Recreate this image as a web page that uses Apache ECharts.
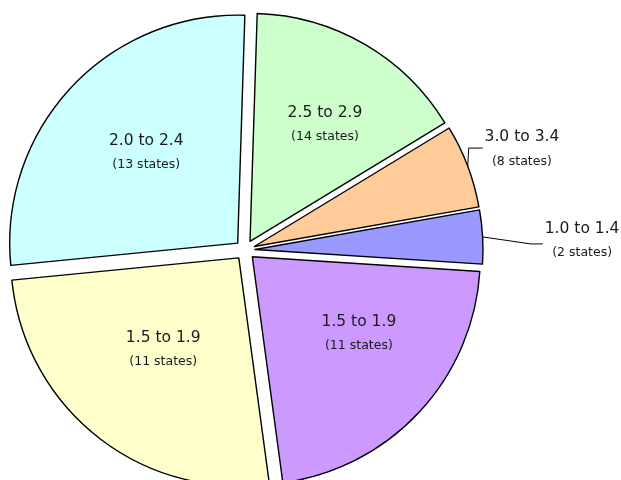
<!DOCTYPE html>
<html><head><meta charset="utf-8">
<script src="https://cdn.jsdelivr.net/npm/echarts@6/dist/echarts.min.js"></script>
<style>html,body{margin:0;padding:0;background:#fff}#c{width:621px;height:480px}</style>
</head><body><div id="c"></div>
<script>
// Data (clockwise from top)
const ranges = ['2.5 to 2.9', '3.0 to 3.4', '1.0 to 1.4', '1.5 to 1.9', '1.5 to 1.9', '2.0 to 2.4'];
const stateCounts = [14, 8, 2, 11, 11, 13];
const shares = [56.9, 21.3, 13.7, 78.6, 92.1, 97.4];

// Styling / layout
const colors = ['#CCFFCC', '#FFCC99', '#9999FF', '#CC99FF', '#FFFFCC', '#CCFFFF'];
const outside = [false, true, true, false, false, false];
const insideNudge = [[16, -16], [0, 0], [0, 0], [21, -3], [-3, 0], [-6, -11]];
// label placement for outside labels: [length, length2]
const outsideLen = [null, [49, -29], [-60, 122], null, null, null];
// leader line shape: [corner dx, corner dy, horizontal run]
const guide = [null, [1, -18, 14], [48, 7, 12], null, null, null];

const data = shares.map((v, i) => {
  const item = {
    value: v,
    name: ranges[i] + ' #' + i,
    selected: true,
    itemStyle: { color: colors[i] },
    label: { position: outside[i] ? 'outside' : 'inside' },
    labelLine: { show: outside[i] }
  };
  if (outside[i]) {
    item.label.distanceToLabelLine = 0;
    item.labelLine.length = outsideLen[i][0];
    item.labelLine.length2 = outsideLen[i][1];
  }
  return item;
});

const chart = echarts.init(document.getElementById('c'), null, { renderer: 'canvas' });
chart.setOption({
  animation: false,
  series: [{
    type: 'pie',
    center: [245, 250],
    radius: 228,
    startAngle: 88.2,
    clockwise: true,
    selectedMode: 'multiple',
    selectedOffset: 10,
    avoidLabelOverlap: false,
    silent: true,
    itemStyle: { borderColor: '#000', borderWidth: 1.4 },
    select: { itemStyle: { borderColor: '#000', borderWidth: 1.4 } },
    emphasis: { disabled: true },
    label: {
      color: '#1a1a1a',
      fontFamily: 'DejaVu Sans',
      bleedMargin: 0,
      overflow: 'none',
      formatter: p => '{a|' + ranges[p.dataIndex] + '}\n{b|(' + stateCounts[p.dataIndex] + ' states)}',
      rich: {
        a: { fontSize: 15.5, lineHeight: 25, color: '#1a1a1a', fontFamily: 'DejaVu Sans', align: 'center' },
        b: { fontSize: 12.5, lineHeight: 23, color: '#1a1a1a', fontFamily: 'DejaVu Sans', align: 'center' }
      }
    },
    labelLine: { lineStyle: { color: '#000', width: 1 } },
    labelLayout: function (p) {
      const i = p.dataIndex;
      if (!outside[i]) return { dx: insideNudge[i][0], dy: insideNudge[i][1] };
      const g = guide[i];
      const a = p.labelLinePoints[0];
      const c = [a[0] + g[0], a[1] + g[1]];
      const e = [c[0] + g[2], c[1]];
      return { labelLinePoints: [a, c, e] };
    },
    data: data
  }]
});
</script>
</body></html>
